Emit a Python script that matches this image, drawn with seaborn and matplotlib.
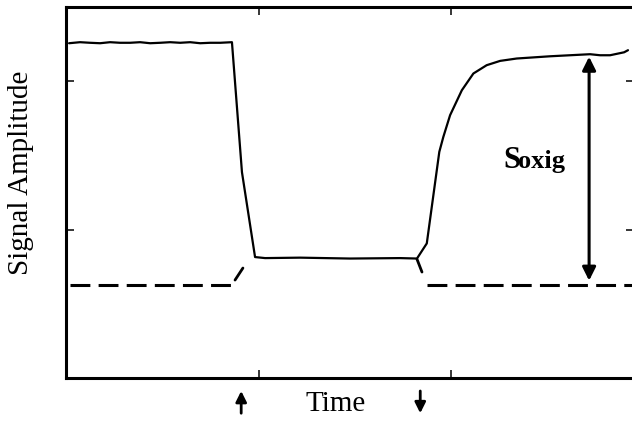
import pandas as pd
import matplotlib
matplotlib.use("Agg")
import matplotlib.pyplot as plt
import seaborn as sns

# signal trace (time, amplitude) in arbitrary units
time = [0.016, 0.073, 0.125, 0.177, 0.229, 0.281, 0.333, 0.385, 0.437, 0.489,
        0.541, 0.593, 0.645, 0.697, 0.749, 0.801, 0.862,
        0.914, 0.982, 1.034, 1.216, 1.475, 1.735, 1.823,
        1.874, 1.939, 1.960, 1.995, 2.056, 2.116, 2.185, 2.255, 2.341, 2.514,
        2.722, 2.774, 2.826, 2.899, 2.919]
signal = [2.256, 2.263, 2.259, 2.256, 2.263, 2.259, 2.259, 2.263, 2.256, 2.259,
          2.263, 2.259, 2.263, 2.256, 2.259, 2.259, 2.263,
          1.387, 0.815, 0.808, 0.811, 0.805, 0.808, 0.805,
          0.907, 1.524, 1.625, 1.771, 1.939, 2.052, 2.108, 2.137, 2.153, 2.168,
          2.182, 2.175, 2.175, 2.195, 2.209]

baseline = 0.626
plateau = 2.165
base_left = [0.021, 0.862]
base_right = [1.875, 2.95]
link_on_x = [0.878, 0.919]
link_on_y = [0.660, 0.741]
link_off_x = [1.823, 1.849]
link_off_y = [0.801, 0.714]

t_on = 0.91      # stimulus on
t_off = 1.84     # stimulus off
s_x = 2.717      # position of the Soxig bracket

sns.set_style("ticks")
plt.rcParams["font.family"] = ["Liberation Serif", "DejaVu Serif"]
plt.rcParams["text.color"] = "black"
plt.rcParams["axes.labelcolor"] = "black"

fig = plt.figure(figsize=(6.32, 4.23), dpi=100)
ax = fig.add_axes([0.1044, 0.1064, 0.8987, 0.877])

df = pd.DataFrame({"time": time, "signal": signal})
sns.lineplot(data=df, x="time", y="signal", sort=False, color="black", lw=1.6, ax=ax)

dash = (0, (6.5, 2.7))
ax.plot(base_left, [baseline, baseline], color="black", lw=2.2, ls=dash)
ax.plot(base_right, [baseline, baseline], color="black", lw=2.2, ls=dash)
ax.plot(link_on_x, link_on_y, color="black", lw=2.0)
ax.plot(link_off_x, link_off_y, color="black", lw=2.0)

ax.annotate("", xy=(s_x, plateau), xytext=(s_x, baseline + 0.03),
            arrowprops=dict(arrowstyle="<|-|>", color="black", lw=2.2,
                            mutation_scale=20, shrinkA=0, shrinkB=0))

ax.text(2.27, 1.414, "S", fontsize=22, fontweight="bold", va="baseline", ha="left")
ax.text(2.35, 1.414, "oxig", fontsize=19, fontweight="bold", va="baseline", ha="left")

# stimulus markers under the axis
tr = ax.get_xaxis_transform()
ax.annotate("", xy=(t_on, -0.035), xytext=(t_on, -0.095), xycoords=tr, textcoords=tr,
            arrowprops=dict(arrowstyle="-|>", color="black", lw=2,
                            mutation_scale=16, shrinkA=0, shrinkB=0), annotation_clip=False)
ax.annotate("", xy=(t_off, -0.095), xytext=(t_off, -0.035), xycoords=tr, textcoords=tr,
            arrowprops=dict(arrowstyle="-|>", color="black", lw=2,
                            mutation_scale=16, shrinkA=0, shrinkB=0), annotation_clip=False)

ax.set_xlim(0, 2.95)
ax.set_ylim(0, 2.5)
ax.set_xticks([1, 2])
ax.set_yticks([1, 2])
ax.set_xticklabels([])
ax.set_yticklabels([])
ax.tick_params(direction="in", length=6, width=1.1, top=True, right=True, color="black")
for sp in ax.spines.values():
    sp.set_linewidth(2.2)
    sp.set_color("black")

ax.set_xlabel("Time", fontsize=21)
ax.set_ylabel("Signal Amplitude", fontsize=21)
ax.xaxis.set_label_coords(0.474, -0.035)
ax.yaxis.set_label_coords(-0.056, 0.553)

fig.savefig("out.png", dpi=100)
